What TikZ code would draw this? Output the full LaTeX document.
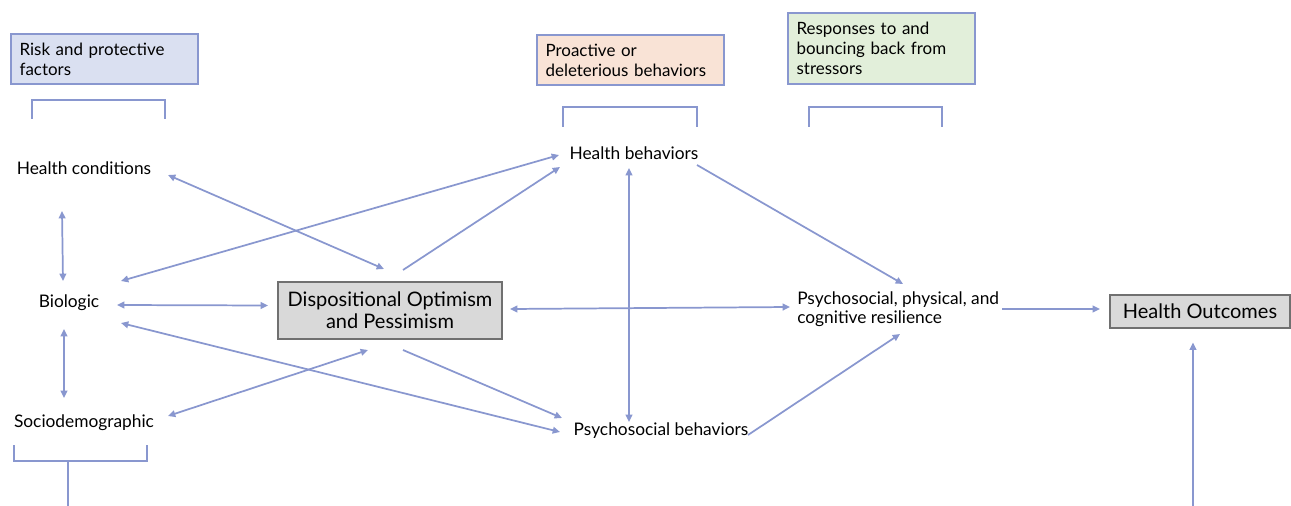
\documentclass[tikz,border=0pt]{standalone}
\usepackage{fontspec}
\setmainfont{Lato}
\usepackage{xcolor}
\usepackage{tikz}
\usetikzlibrary{arrows.meta}

\definecolor{linkblue}{RGB}{137,151,207}
\definecolor{riskfill}{RGB}{218,224,241}
\definecolor{proactfill}{RGB}{249,227,214}
\definecolor{respfill}{RGB}{226,239,218}
\definecolor{keyfill}{RGB}{217,217,217}
\definecolor{keydraw}{RGB}{112,112,112}

\tikzset{
  label/.style={inner sep=0pt, font=\fontsize{13}{14.5}\selectfont},
  header/.style={draw=linkblue, line width=1.4pt, anchor=north west, align=left,
    inner xsep=6.5pt, inner ysep=3pt, text width=127pt,
    font=\fontsize{12.7}{15}\selectfont},
  keybox/.style={draw=keydraw, fill=keyfill, line width=1.5pt, align=center,
    font=\fontsize{15}{16.5}\selectfont},
  link/.style={draw=linkblue, line width=1.3pt, {Triangle[length=5.5pt,width=5pt]}-{Triangle[length=5.5pt,width=5pt]}},
  onelink/.style={draw=linkblue, line width=1.3pt, -{Triangle[length=5.5pt,width=5pt]}},
  bracket/.style={draw=linkblue, line width=1.4pt}
}

\begin{document}
\begin{tikzpicture}[x=0.75pt, y=-0.75pt]
  \useasboundingbox (0,0) rectangle (1291,506);

  % headers
  \node[header, fill=riskfill, minimum height=37.5pt] (risk) at (10,33) {Risk and protective\\factors};
  \node[header, fill=proactfill, minimum height=37.5pt] (proact) at (536,34) {Proactive or\\deleterious behaviors};
  \node[header, fill=respfill, minimum height=53pt, inner ysep=1pt] (resp) at (787,12) {Responses to and\\bouncing back from\\stressors};

  \draw[bracket] (32,119) -- (32,100) -- (165,100) -- (165,119);
  \draw[bracket] (563,127) -- (563,107) -- (697,107) -- (697,127);
  \draw[bracket] (809,127) -- (809,107) -- (942,107) -- (942,127);
  \draw[bracket] (14,445) -- (14,461) -- (147,461) -- (147,445);
  \draw[bracket] (68,461) -- (68,506);

  % factors
  \node[label] (hcond) at (84,168) {Health conditions};
  \node[label] (bio) at (69,303) {Biologic};
  \node[label] (socio) at (84,423) {Sociodemographic};

  \node[keybox, minimum width=168pt, minimum height=42.75pt] (disp) at (390,310.5) {Dispositional Optimism\\and Pessimism};

  \node[label] (hbeh) at (634,153) {Health behaviors};
  \node[label] (psybeh) at (661,431) {Psychosocial behaviors};
  \node[label, anchor=west, align=left] (resil) at (797,309) {Psychosocial, physical, and\\cognitive resilience};

  \node[keybox, minimum width=135pt, minimum height=24.75pt] (outc) at (1200,311.5) {Health Outcomes};
  \coordinate (foot) at (1193,506);

  % links
  \draw[link] ([shift={(84,7)}]hcond.center) -- ([shift={(-6,-41.5)}]disp.center);
  \draw[link] ([shift={(-22,43)}]hcond.center) -- ([shift={(-6,-22)}]bio.center);
  \draw[link] ([shift={(-5,26)}]bio.center) -- ([shift={(-20,-25)}]socio.center);
  \draw[link] ([shift={(48,2)}]bio.center) -- ([shift={(-122,-5)}]disp.center);
  \draw[link] ([shift={(52,-22)}]bio.center) -- ([shift={(-75,2)}]hbeh.center);
  \draw[onelink] ([shift={(13,-40.5)}]disp.center) -- ([shift={(-74,14)}]hbeh.center);
  \draw[link] ([shift={(52,20)}]bio.center) -- ([shift={(-101,1)}]psybeh.center);
  \draw[link] ([shift={(84,-7)}]socio.center) -- ([shift={(-22,39.5)}]disp.center);
  \draw[onelink] ([shift={(13,39.5)}]disp.center) -- ([shift={(-99,-13)}]psybeh.center);
  \draw[link] ([shift={(120,-1.5)}]disp.center) -- ([shift={(-7,-2)}]resil.west);
  \draw[link] ([shift={(-5,15)}]hbeh.center) -- ([shift={(-32,-9)}]psybeh.center);
  \draw[onelink] ([shift={(63,12)}]hbeh.center) -- ([shift={(106,-25)}]resil.west);
  \draw[onelink] ([shift={(87,4)}]psybeh.center) -- ([shift={(103,25)}]resil.west);
  \draw[onelink] ([shift={(205,0)}]resil.west) -- ([shift={(-100,-2.5)}]outc.center);
  \draw[onelink] (foot) -- ([shift={(-7,31)}]outc.center);
\end{tikzpicture}
\end{document}
